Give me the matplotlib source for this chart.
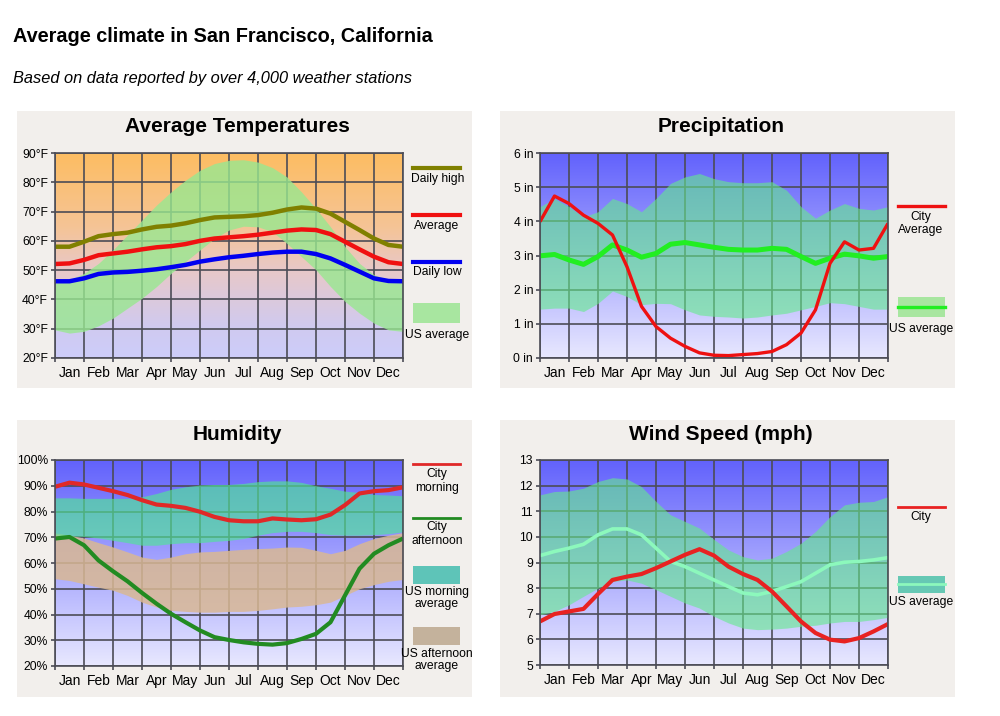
import numpy as np
import matplotlib
matplotlib.use('Agg')
import matplotlib.pyplot as plt
from matplotlib.lines import Line2D
from matplotlib.patches import Rectangle

plt.rcParams['font.family'] = ['Liberation Sans', 'DejaVu Sans']

months = ['Jan', 'Feb', 'Mar', 'Apr', 'May', 'Jun', 'Jul', 'Aug', 'Sep', 'Oct', 'Nov', 'Dec']

# values read every half month, from Jan 1 to Dec 31
temp_high = [58, 58, 59.7, 61.6, 62.3, 62.8, 63.9, 64.8, 65.2, 66, 67.1, 68, 68.2,
             68.4, 68.8, 69.6, 70.7, 71.4, 71, 69.3, 66.5, 63.7, 60.8, 58.6, 58]
temp_avg = [52.1, 52.3, 53.5, 55.1, 55.7, 56.3, 57.1, 57.8, 58.2, 58.9, 60, 60.8, 61.2,
            61.6, 62.1, 62.8, 63.5, 63.9, 63.7, 62.3, 59.7, 57.1, 54.6, 52.7, 52.1]
temp_low = [46.2, 46.2, 47.2, 48.7, 49.2, 49.4, 49.8, 50.3, 51, 51.8, 52.9, 53.7, 54.4,
            54.9, 55.5, 56, 56.3, 56.3, 55.5, 54, 51.8, 49.5, 47.2, 46.3, 46.2]
temp_us_hi = [45.5, 46.7, 48.9, 52.3, 56.9, 62, 67.1, 72.2, 76.7, 80.7, 84.1, 86.4, 87.5,
              87.7, 86.9, 85, 81.8, 76.7, 71, 64.8, 58, 52.3, 48.4, 46.7, 45.5]
temp_us_lo = [29.6, 28.5, 29.1, 31, 33.6, 37, 40.4, 44.4, 48.9, 52.9, 56.9, 60.8, 63.7,
              65, 64.8, 63.1, 59.1, 54.6, 50.1, 44.4, 39.3, 35.3, 31.9, 29.6, 29.1]

rain_city = [3.99, 4.74, 4.52, 4.18, 3.94, 3.6, 2.67, 1.51, 0.92, 0.58, 0.34, 0.15, 0.08,
             0.07, 0.1, 0.13, 0.19, 0.39, 0.73, 1.41, 2.77, 3.4, 3.16, 3.21, 3.94]
rain_us = [2.99, 3.03, 2.87, 2.74, 2.97, 3.31, 3.16, 2.95, 3.06, 3.33, 3.38, 3.31, 3.24,
           3.18, 3.16, 3.16, 3.21, 3.18, 2.97, 2.77, 2.92, 3.04, 2.99, 2.92, 2.97]
rain_us_hi = [4.43, 4.67, 4.43, 4.13, 4.28, 4.67, 4.52, 4.28, 4.67, 5.11, 5.3, 5.4, 5.25,
              5.16, 5.13, 5.13, 5.16, 4.91, 4.43, 4.09, 4.33, 4.52, 4.38, 4.33, 4.43]
rain_us_lo = [1.43, 1.46, 1.46, 1.36, 1.6, 1.96, 1.8, 1.56, 1.6, 1.59, 1.41, 1.26, 1.22,
              1.2, 1.17, 1.2, 1.26, 1.31, 1.41, 1.51, 1.62, 1.59, 1.51, 1.43, 1.43]

hum_morning = [89.6, 91.2, 90.5, 89.2, 87.9, 86.4, 84.4, 82.7, 82.2, 81.4, 79.9, 77.9, 76.6,
               76.2, 76.2, 77.3, 76.9, 76.6, 77, 78.8, 82.5, 87, 87.9, 88.3, 89.4]
hum_afternoon = [69.5, 70.1, 66.9, 61, 56.8, 52.9, 48.4, 44.2, 40.3, 37, 33.8, 31.2, 30.1,
                 29.2, 28.6, 28.3, 28.9, 30.5, 32.5, 37, 47.4, 57.8, 63.6, 66.9, 69.5]
hum_us_morn_hi = [85.3, 85.3, 85.1, 85.1, 85.1, 85.1, 85.7, 87, 88.6, 89.6, 90.3, 90.5, 90.5,
                  90.9, 91.6, 91.9, 91.9, 91.3, 90, 89, 87.9, 87.4, 86.6, 86.4, 86.1]
hum_us_morn_lo = [70.8, 70.5, 70.3, 69.7, 68.8, 67.9, 66.9, 66.9, 67.5, 67.9, 67.9, 68.4, 68.8,
                  69.5, 70.8, 71.8, 72.3, 72.3, 71.8, 71, 70.8, 70.8, 71, 71.4, 72.1]
hum_us_aft_hi = [71.7, 70.8, 69.7, 67.9, 66.2, 64.3, 62.3, 61.4, 62.3, 63.6, 64.3, 64.5, 64.9,
                 65.3, 65.6, 65.8, 66.2, 66.1, 64.9, 63.6, 64.9, 67.5, 69.5, 70.8, 71.8]
hum_us_aft_lo = [53.9, 53.2, 51.9, 50.6, 49.4, 47.4, 44.8, 42.9, 41.6, 41.2, 40.9, 40.9, 41.2,
                 41.2, 41.6, 42.2, 42.9, 43.2, 43.8, 44.8, 47.4, 50, 51.6, 52.9, 53.6]

wind_city = [6.7, 6.99, 7.09, 7.19, 7.77, 8.32, 8.45, 8.55, 8.78, 9.04, 9.3, 9.52, 9.27,
             8.84, 8.55, 8.32, 7.87, 7.29, 6.7, 6.25, 5.99, 5.92, 6.05, 6.31, 6.6]
wind_us = [9.27, 9.43, 9.56, 9.71, 10.08, 10.31, 10.31, 10.08, 9.56, 9.04, 8.84, 8.58, 8.32,
           8.06, 7.81, 7.74, 7.87, 8.06, 8.25, 8.58, 8.91, 9.01, 9.04, 9.1, 9.19]
wind_us_hi = [11.64, 11.77, 11.79, 11.9, 12.16, 12.31, 12.26, 11.96, 11.38, 10.86, 10.6, 10.34, 9.9,
              9.49, 9.23, 9.1, 9.17, 9.43, 9.75, 10.21, 10.79, 11.25, 11.35, 11.38, 11.57]
wind_us_lo = [6.96, 7.09, 7.35, 7.68, 8, 8.26, 8.32, 8.19, 7.94, 7.68, 7.42, 7.22, 6.9,
              6.64, 6.44, 6.38, 6.4, 6.44, 6.51, 6.55, 6.64, 6.7, 6.7, 6.77, 6.86]

xs = np.arange(len(temp_high)) / 2

W, H = 1000, 716
gridc = '#4c4c56'
panel_bg = '#f2efec'
blue_stops = [(0, (232, 232, 255)), (1, (98, 98, 252))]
temp_stops = [(0, (205, 205, 250)), (0.15, (208, 202, 240)), (0.43, (232, 200, 200)),
              (0.64, (245, 196, 150)), (1, (253, 189, 98))]

fig = plt.figure(figsize=(10, 7.16), dpi=100)


def box(x0, y0, x1, y1):
    return [x0 / W, 1 - y1 / H, (x1 - x0) / W, (y1 - y0) / H]


def background(x0, y0, x1, y1):
    fig.add_artist(Rectangle((x0 / W, 1 - y1 / H), (x1 - x0) / W, (y1 - y0) / H,
                             transform=fig.transFigure, color=panel_bg, lw=0, zorder=-5))


def gradient(ax, stops, ylim):
    t = np.linspace(0, 1, 256)
    pos = [s[0] for s in stops]
    cols = np.array([s[1] for s in stops]) / 255
    img = np.stack([np.interp(t, pos, cols[:, i]) for i in range(3)], axis=-1)[:, None, :]
    ax.imshow(img, extent=[0, 12, ylim[0], ylim[1]], origin='lower', aspect='auto',
              zorder=0, interpolation='bilinear')


def setup(ax, ylim, yticks, ylabels):
    ax.set_xlim(0, 12)
    ax.set_ylim(*ylim)
    ax.set_xticks(range(13))
    ax.set_xticklabels([])
    ax.set_xticks(np.arange(12) + 0.5, minor=True)
    ax.set_xticklabels(months, minor=True)
    ax.tick_params(axis='x', which='minor', length=0, pad=6, labelsize=10)
    ax.tick_params(axis='x', which='major', length=3, width=1.2, color=gridc)
    ax.set_yticks(yticks)
    ax.set_yticklabels(ylabels, fontsize=8.7)
    ax.tick_params(axis='y', length=3, width=1.2, pad=2, color=gridc)
    ax.grid(True, which='major', color=gridc, lw=1.2)
    ax.set_axisbelow(True)
    for s in ax.spines.values():
        s.set_color(gridc)
        s.set_linewidth(1.2)


def leg_line(x0, x1, y, color, lw):
    fig.add_artist(Line2D([x0 / W, x1 / W], [1 - y / H] * 2, color=color, lw=lw,
                          transform=fig.transFigure))


def leg_box(x0, y0, x1, y1, color):
    fig.add_artist(Rectangle((x0 / W, 1 - y1 / H), (x1 - x0) / W, (y1 - y0) / H,
                             transform=fig.transFigure, color=color, lw=0))


def leg_text(x, y, s):
    fig.text(x / W, 1 - y / H, s, ha='center', va='center', fontsize=8.7)


# page titles
fig.text(13 / W, 1 - 37 / H, 'Average climate in San Francisco, California',
         fontsize=14.3, fontweight='bold', va='center')
fig.text(13 / W, 1 - 78 / H, 'Based on data reported by over 4,000 weather stations',
         fontsize=11.8, style='italic', va='center')

for bx, by in [(17, 111), (500, 111), (17, 420), (500, 420)]:
    background(bx, by, bx + 455, by + 277)

# Average Temperatures
ax = fig.add_axes(box(55, 153, 403, 358))
gradient(ax, temp_stops, (20, 90))
ax.fill_between(xs, temp_us_lo, temp_us_hi, color='#98e890', alpha=0.8, lw=0, zorder=1)
ax.plot(xs, temp_high, color='#808000', lw=3.2, solid_capstyle='butt')
ax.plot(xs, temp_avg, color='#f01010', lw=3.2, solid_capstyle='butt')
ax.plot(xs, temp_low, color='#0000f0', lw=3.2, solid_capstyle='butt')
setup(ax, (20, 90), range(20, 91, 10), [f'{v}°F' for v in range(20, 91, 10)])
fig.text(237 / W, 1 - 127 / H, 'Average Temperatures', fontsize=15, fontweight='bold',
         ha='center', va='center')
leg_line(413, 460, 168, '#808000', 3)
leg_text(438, 179, 'Daily high')
leg_line(413, 460, 215, '#f01010', 3)
leg_text(437, 226, 'Average')
leg_line(413, 460, 262, '#0000f0', 3)
leg_text(437, 272, 'Daily low')
leg_box(413, 303, 460, 323, '#a8e6a0')
leg_text(437, 335, 'US average')

# Precipitation
ax = fig.add_axes(box(540, 153, 888, 358))
gradient(ax, blue_stops, (0, 6))
ax.fill_between(xs, rain_us_lo, rain_us_hi, color='#64eb8c', alpha=0.6, lw=0, zorder=1)
ax.plot(xs, rain_us, color='#22ee22', lw=3.6, solid_capstyle='butt')
ax.plot(xs, rain_city, color='#ee1111', lw=2.4, solid_capstyle='butt')
setup(ax, (0, 6), range(0, 7), [f'{v} in' for v in range(0, 7)])
fig.text(721 / W, 1 - 127 / H, 'Precipitation', fontsize=15, fontweight='bold',
         ha='center', va='center')
leg_line(898, 945, 206, '#ee1111', 2.4)
leg_text(921, 217, 'City')
leg_text(921, 230, 'Average')
leg_box(898, 297, 945, 317, '#a8e6a0')
leg_line(898, 945, 307, '#22ee22', 2.4)
leg_text(921, 329, 'US average')

# Humidity
ax = fig.add_axes(box(55, 460, 403, 666))
gradient(ax, blue_stops, (20, 100))
ax.fill_between(xs, hum_us_aft_lo, hum_us_aft_hi, color='#d9b894', alpha=0.85, lw=0, zorder=1)
ax.fill_between(xs, hum_us_morn_lo, hum_us_morn_hi, color='#50e696', alpha=0.65, lw=0, zorder=1)
ax.plot(xs, hum_morning, color='#e02828', lw=3, solid_capstyle='butt')
ax.plot(xs, hum_afternoon, color='#228b22', lw=3, solid_capstyle='butt')
setup(ax, (20, 100), range(20, 101, 10), [f'{v}%' for v in range(20, 101, 10)])
fig.text(237 / W, 1 - 435 / H, 'Humidity', fontsize=15, fontweight='bold',
         ha='center', va='center')
leg_line(413, 460, 464, '#e02828', 2)
leg_text(437, 474, 'City')
leg_text(437, 488, 'morning')
leg_line(413, 460, 518, '#228b22', 2)
leg_text(437, 527, 'City')
leg_text(437, 541, 'afternoon')
leg_box(413, 566, 460, 584, '#5ec4b8')
leg_text(437, 592, 'US morning')
leg_text(437, 604, 'average')
leg_box(413, 627, 460, 645, '#c4b29c')
leg_text(437, 654, 'US afternoon')
leg_text(437, 666, 'average')

# Wind Speed
ax = fig.add_axes(box(540, 460, 888, 665))
gradient(ax, blue_stops, (5, 13))
ax.fill_between(xs, wind_us_lo, wind_us_hi, color='#64eb8c', alpha=0.6, lw=0, zorder=1)
ax.plot(xs, wind_us, color='#8cf8bc', lw=2.6, solid_capstyle='butt')
ax.plot(xs, wind_city, color='#e82222', lw=3, solid_capstyle='butt')
setup(ax, (5, 13), range(5, 14), [str(v) for v in range(5, 14)])
fig.text(721 / W, 1 - 435 / H, 'Wind Speed (mph)', fontsize=15, fontweight='bold',
         ha='center', va='center')
leg_line(898, 945, 507, '#e82222', 2)
leg_text(921, 517, 'City')
leg_box(898, 576, 945, 593, '#66c8b4')
leg_line(898, 945, 584, '#8cf8bc', 2)
leg_text(921, 602, 'US average')

fig.savefig('out.png', dpi=100)
